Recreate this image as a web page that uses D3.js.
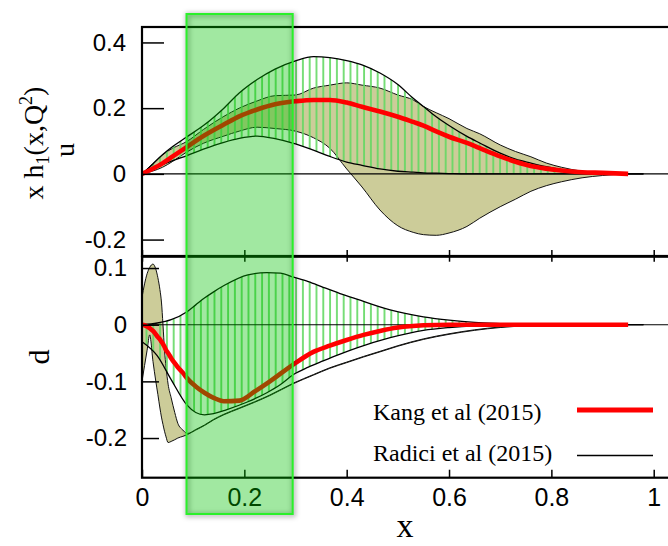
<!DOCTYPE html>
<html>
<head>
<meta charset="utf-8">
<script src="https://cdn.jsdelivr.net/npm/d3@7"></script>
<style>
html,body{margin:0;padding:0;background:#fff;}
svg{display:block;}
</style>
</head>
<body>
<svg id="chart" width="668" height="546"></svg>
<script>
// ---------------- DATA ----------------
// Top panel (u quark): Kang et al (2015) band + central curve
const kangUX   = [0, 0.02, 0.04, 0.06, 0.087, 0.12, 0.16, 0.19, 0.225, 0.26, 0.3, 0.335, 0.367, 0.4, 0.43, 0.465, 0.5, 0.53, 0.55, 0.575, 0.6, 0.635, 0.66, 0.7, 0.73, 0.76, 0.79, 0.82, 0.86, 0.9, 0.95];
const kangUMid = [0, 0.015, 0.032, 0.053, 0.081, 0.115, 0.15, 0.175, 0.196, 0.212, 0.221, 0.225, 0.225, 0.217, 0.204, 0.19, 0.174, 0.158, 0.147, 0.129, 0.113, 0.094, 0.078, 0.053, 0.037, 0.024, 0.016, 0.01, 0.005, 0.003, 0];
const kangUUp  = [0, 0.03, 0.058, 0.078, 0.098, 0.135, 0.175, 0.2, 0.222, 0.238, 0.24, 0.261, 0.27, 0.277, 0.27, 0.261, 0.24, 0.225, 0.205, 0.186, 0.168, 0.138, 0.122, 0.088, 0.068, 0.052, 0.033, 0.02, 0.008, 0.002, 0];
const kangULo  = [0, 0.008, 0.02, 0.038, 0.066, 0.093, 0.115, 0.13, 0.142, 0.138, 0.13, 0.11, 0.078, 0.015, -0.04, -0.11, -0.158, -0.178, -0.185, -0.187, -0.18, -0.16, -0.135, -0.1, -0.077, -0.053, -0.036, -0.024, -0.012, -0.005, 0];

// Top panel (u quark): Radici et al (2015) band
const radUX  = [0, 0.02, 0.04, 0.06, 0.087, 0.12, 0.16, 0.19, 0.225, 0.26, 0.3, 0.335, 0.367, 0.4, 0.43, 0.465, 0.5, 0.53, 0.55, 0.575, 0.6, 0.635, 0.66, 0.7, 0.73, 0.76, 0.79, 0.82, 0.86, 0.9, 0.98];
const radUUp = [0, 0.028, 0.058, 0.083, 0.112, 0.147, 0.2, 0.246, 0.287, 0.319, 0.344, 0.357, 0.354, 0.345, 0.332, 0.307, 0.272, 0.23, 0.205, 0.174, 0.147, 0.114, 0.094, 0.063, 0.045, 0.033, 0.022, 0.013, 0.004, 0.001, 0];
const radULo = [0, 0.014, 0.028, 0.04, 0.055, 0.075, 0.096, 0.108, 0.115, 0.107, 0.091, 0.072, 0.053, 0.036, 0.026, 0.015, 0.008, 0.005, 0.003, 0.002, 0.001, 0, 0, 0, 0, 0, 0, 0, 0, 0, 0];

// Bottom panel (d quark): Kang et al (2015) band + central curve
const kangDX   = [0, 0.005, 0.01, 0.015, 0.0215, 0.027, 0.031, 0.035, 0.038, 0.041, 0.044, 0.047, 0.051, 0.057, 0.064, 0.07, 0.08, 0.0885, 0.105, 0.122, 0.14, 0.16, 0.19, 0.22, 0.25, 0.296, 0.335, 0.367, 0.4, 0.433, 0.465, 0.5, 0.55, 0.6, 0.65, 0.7, 0.75, 0.8, 0.87, 0.95];
const kangDMid = [0, -0.001, -0.003, -0.006, -0.011, -0.017, -0.022, -0.026, -0.03, -0.034, -0.039, -0.045, -0.05, -0.059, -0.068, -0.075, -0.085, -0.095, -0.109, -0.12, -0.129, -0.135, -0.134, -0.118, -0.1, -0.07, -0.048, -0.037, -0.027, -0.018, -0.011, -0.005, -0.001, 0, 0, 0, 0, 0, 0, 0];
const kangDUp  = [0.048, 0.072, 0.09, 0.101, 0.107, 0.098, 0.083, 0.062, 0.04, 0, -0.045, -0.075, -0.105, -0.129, -0.155, -0.174, -0.186, -0.192, -0.185, -0.177, -0.167, -0.158, -0.147, -0.136, -0.124, -0.103, -0.088, -0.076, -0.066, -0.056, -0.047, -0.037, -0.025, -0.016, -0.009, -0.004, -0.001, 0, 0, 0];
const kangDLo  = [-0.1, -0.072, -0.045, -0.018, -0.065, -0.1, -0.123, -0.147, -0.163, -0.176, -0.188, -0.198, -0.208, -0.206, -0.203, -0.2, -0.197, -0.194, -0.186, -0.178, -0.168, -0.159, -0.148, -0.137, -0.125, -0.104, -0.089, -0.077, -0.067, -0.057, -0.048, -0.038, -0.026, -0.017, -0.01, -0.005, -0.002, 0, 0, 0];

// Bottom panel (d quark): Radici et al (2015) band
const radDX  = [0, 0.03, 0.057, 0.088, 0.105, 0.122, 0.14, 0.162, 0.207, 0.244, 0.27, 0.296, 0.325, 0.354, 0.387, 0.42, 0.485, 0.55, 0.6, 0.65, 0.7, 0.8, 0.98];
const radDUp = [0, 0.003, 0.009, 0.023, 0.035, 0.047, 0.058, 0.07, 0.088, 0.092, 0.091, 0.084, 0.076, 0.066, 0.055, 0.045, 0.026, 0.014, 0.008, 0.004, 0.002, 0, 0];
const radDLo = [-0.03, -0.055, -0.097, -0.142, -0.155, -0.159, -0.157, -0.151, -0.136, -0.12, -0.106, -0.088, -0.075, -0.064, -0.052, -0.041, -0.023, -0.01, -0.005, -0.002, -0.001, 0, 0];

// Highlighted x range (green box)
const boxRange = [0.087, 0.2945];

// Axes
const xTicks    = [0, 0.2, 0.4, 0.6, 0.8, 1];
const yTicksTop = [-0.2, 0, 0.2, 0.4];
const yTicksBot = [-0.2, -0.1, 0, 0.1];
const legendLabels = ["Kang et al (2015)", "Radici et al (2015)"];

// ---------------- LAYOUT ----------------
const svg = d3.select("#chart");
const L = 142, R = 679.3;
const topP = {y0: 27, y1: 256};
const botP = {y0: 256.7, y1: 477.7};

const x = d3.scaleLinear().domain([0, 1.05]).range([L, R]);
const yTop = d3.scaleLinear().domain([-0.25, 0.447]).range([topP.y1, topP.y0]);
const yBot = d3.scaleLinear().domain([-0.27, 0.12]).range([botP.y1, botP.y0]);

const defs = svg.append("defs");
// hatch pattern (vertical green lines)
const pat = defs.append("pattern").attr("id", "hatch")
  .attr("patternUnits", "userSpaceOnUse").attr("width", 6.8).attr("height", 20)
  .attr("x", L + 3.5);
pat.append("line").attr("x1", 1).attr("x2", 1).attr("y1", 0).attr("y2", 20)
  .attr("stroke", "#62d862").attr("stroke-width", 1.7);

defs.append("clipPath").attr("id", "clipTop").append("rect")
  .attr("x", L).attr("y", topP.y0).attr("width", R - L).attr("height", topP.y1 - topP.y0);
defs.append("clipPath").attr("id", "clipBot").append("rect")
  .attr("x", L).attr("y", botP.y0).attr("width", R - L).attr("height", botP.y1 - botP.y0);

const blur = defs.append("filter").attr("id", "shadow")
  .attr("x", "-20%").attr("y", "-5%").attr("width", "140%").attr("height", "110%");
blur.append("feGaussianBlur").attr("stdDeviation", 2.5);

function drawPanel(y, clipId, kx, kmid, kup, klo, rx, rup, rlo) {
  const g = svg.append("g").attr("clip-path", `url(#${clipId})`);
  const curve = d3.curveMonotoneX;
  const kd = kx.map((v, i) => ({x: v, m: kmid[i], u: kup[i], l: klo[i]}));
  const rd = rx.map((v, i) => ({x: v, u: rup[i], l: rlo[i]}));

  // Kang band (khaki)
  g.append("path").datum(kd)
    .attr("d", d3.area().curve(curve).x(d => x(d.x)).y0(d => y(d.l)).y1(d => y(d.u)))
    .attr("fill", "#cccc99").attr("stroke", "none");
  const lineK = f => d3.line().curve(curve).x(d => x(d.x)).y(d => y(d[f]));
  ["u", "l"].forEach(f => g.append("path").datum(kd).attr("d", lineK(f))
    .attr("fill", "none").attr("stroke", "#111").attr("stroke-width", 1));

  // Radici band (hatched)
  g.append("path").datum(rd)
    .attr("d", d3.area().curve(curve).x(d => x(d.x)).y0(d => y(d.l)).y1(d => y(d.u)))
    .attr("fill", "url(#hatch)").attr("stroke", "none");

  // zero line
  g.append("line").attr("x1", L).attr("x2", R).attr("y1", y(0)).attr("y2", y(0))
    .attr("stroke", "#000").attr("stroke-width", 1.1);

  // Radici boundaries
  ["u", "l"].forEach(f => g.append("path").datum(rd).attr("d", lineK(f))
    .attr("fill", "none").attr("stroke", "#000").attr("stroke-width", 1.3));

  // Kang central curve
  g.append("path").datum(kd).attr("d", lineK("m"))
    .attr("fill", "none").attr("stroke", "#ff0000").attr("stroke-width", 4.6)
    .attr("stroke-linecap", "butt");
}

drawPanel(yTop, "clipTop", kangUX, kangUMid, kangUUp, kangULo, radUX, radUUp, radULo);
drawPanel(yBot, "clipBot", kangDX, kangDMid, kangDUp, kangDLo, radDX, radDUp, radDLo);

// ---------------- AXES ----------------
const fmt = d => String(d);
const tickFont = "'Liberation Sans', Arial, Helvetica, sans-serif";

function styleAxis(sel, fs) {
  sel.select(".domain").remove();
  sel.selectAll(".tick line").attr("stroke", "#000").attr("stroke-width", 1.5);
  sel.selectAll(".tick text").attr("font-family", tickFont).attr("font-size", fs).attr("fill", "#000");
}

svg.append("g").attr("transform", `translate(${L},0)`)
  .call(d3.axisLeft(yTop).tickValues(yTicksTop).tickSize(-22).tickPadding(16).tickFormat(fmt))
  .call(s => styleAxis(s, 24));
svg.append("g").attr("transform", `translate(${L},0)`)
  .call(d3.axisLeft(yBot).tickValues(yTicksBot).tickSize(-17).tickPadding(15).tickFormat(fmt))
  .call(s => styleAxis(s, 24));
svg.append("g").attr("transform", `translate(0,${topP.y1})`)
  .call(d3.axisBottom(x).tickValues(xTicks).tickSize(-6).tickFormat(""))
  .call(s => styleAxis(s, 24));
svg.append("g").attr("transform", `translate(0,${botP.y0})`)
  .call(d3.axisTop(x).tickValues(xTicks).tickSize(-5).tickFormat(""))
  .call(s => styleAxis(s, 24));
svg.append("g").attr("transform", `translate(0,${botP.y1})`)
  .call(d3.axisBottom(x).tickValues(xTicks).tickSize(-8).tickPadding(11).tickFormat(fmt))
  .call(s => styleAxis(s, 25));

// frames
[topP, botP].forEach(p => svg.append("rect")
  .attr("x", L).attr("y", p.y0).attr("width", R - L).attr("height", p.y1 - p.y0)
  .attr("fill", "none").attr("stroke", "#000").attr("stroke-width", 2.2));

// ---------------- TITLES ----------------
const serif = "'Liberation Serif', 'Times New Roman', Times, serif";
const yt = svg.append("text").attr("transform", "translate(43,143) rotate(-90)")
  .attr("text-anchor", "middle").attr("font-family", serif).attr("font-size", 28).attr("fill", "#000");
yt.append("tspan").text("x h");
yt.append("tspan").attr("font-size", 18).attr("dy", 6).text("1");
yt.append("tspan").attr("dy", -6).text("(x,Q");
yt.append("tspan").attr("font-size", 18).attr("dy", -11).text("2");
yt.append("tspan").attr("dy", 11).text(")");

svg.append("text").attr("transform", "translate(74,150) rotate(-90)")
  .attr("text-anchor", "middle").attr("font-family", serif).attr("font-size", 28).text("u");
svg.append("text").attr("transform", "translate(49,357) rotate(-90)")
  .attr("text-anchor", "middle").attr("font-family", serif).attr("font-size", 30).text("d");
svg.append("text").attr("x", 405).attr("y", 537)
  .attr("text-anchor", "middle").attr("font-family", serif).attr("font-size", 34).text("x");

// ---------------- LEGEND ----------------
const leg = svg.append("g");
leg.append("text").attr("x", 373).attr("y", 420).attr("font-family", serif).attr("font-size", 24).text(legendLabels[0]);
leg.append("text").attr("x", 373).attr("y", 461).attr("font-family", serif).attr("font-size", 24).text(legendLabels[1]);
leg.append("line").attr("x1", 577).attr("x2", 653).attr("y1", 410).attr("y2", 410)
  .attr("stroke", "#ff0000").attr("stroke-width", 5);
leg.append("line").attr("x1", 577).attr("x2", 653).attr("y1", 455.5).attr("y2", 455.5)
  .attr("stroke", "#000").attr("stroke-width", 1.4);

// ---------------- GREEN BOX ----------------
const bx0 = x(boxRange[0]), bx1 = x(boxRange[1]);
svg.append("rect").attr("x", bx0 + 1).attr("y", 15).attr("width", bx1 - bx0).attr("height", 500)
  .attr("fill", "none").attr("stroke", "#000").attr("stroke-opacity", 0.3).attr("stroke-width", 4)
  .attr("filter", "url(#shadow)");
svg.append("rect").attr("x", bx0).attr("y", 14).attr("width", bx1 - bx0).attr("height", 500)
  .attr("fill", "rgb(0,193,0)").attr("fill-opacity", 0.37)
  .attr("stroke", "#2af02a").attr("stroke-width", 2);
</script>
</body>
</html>
